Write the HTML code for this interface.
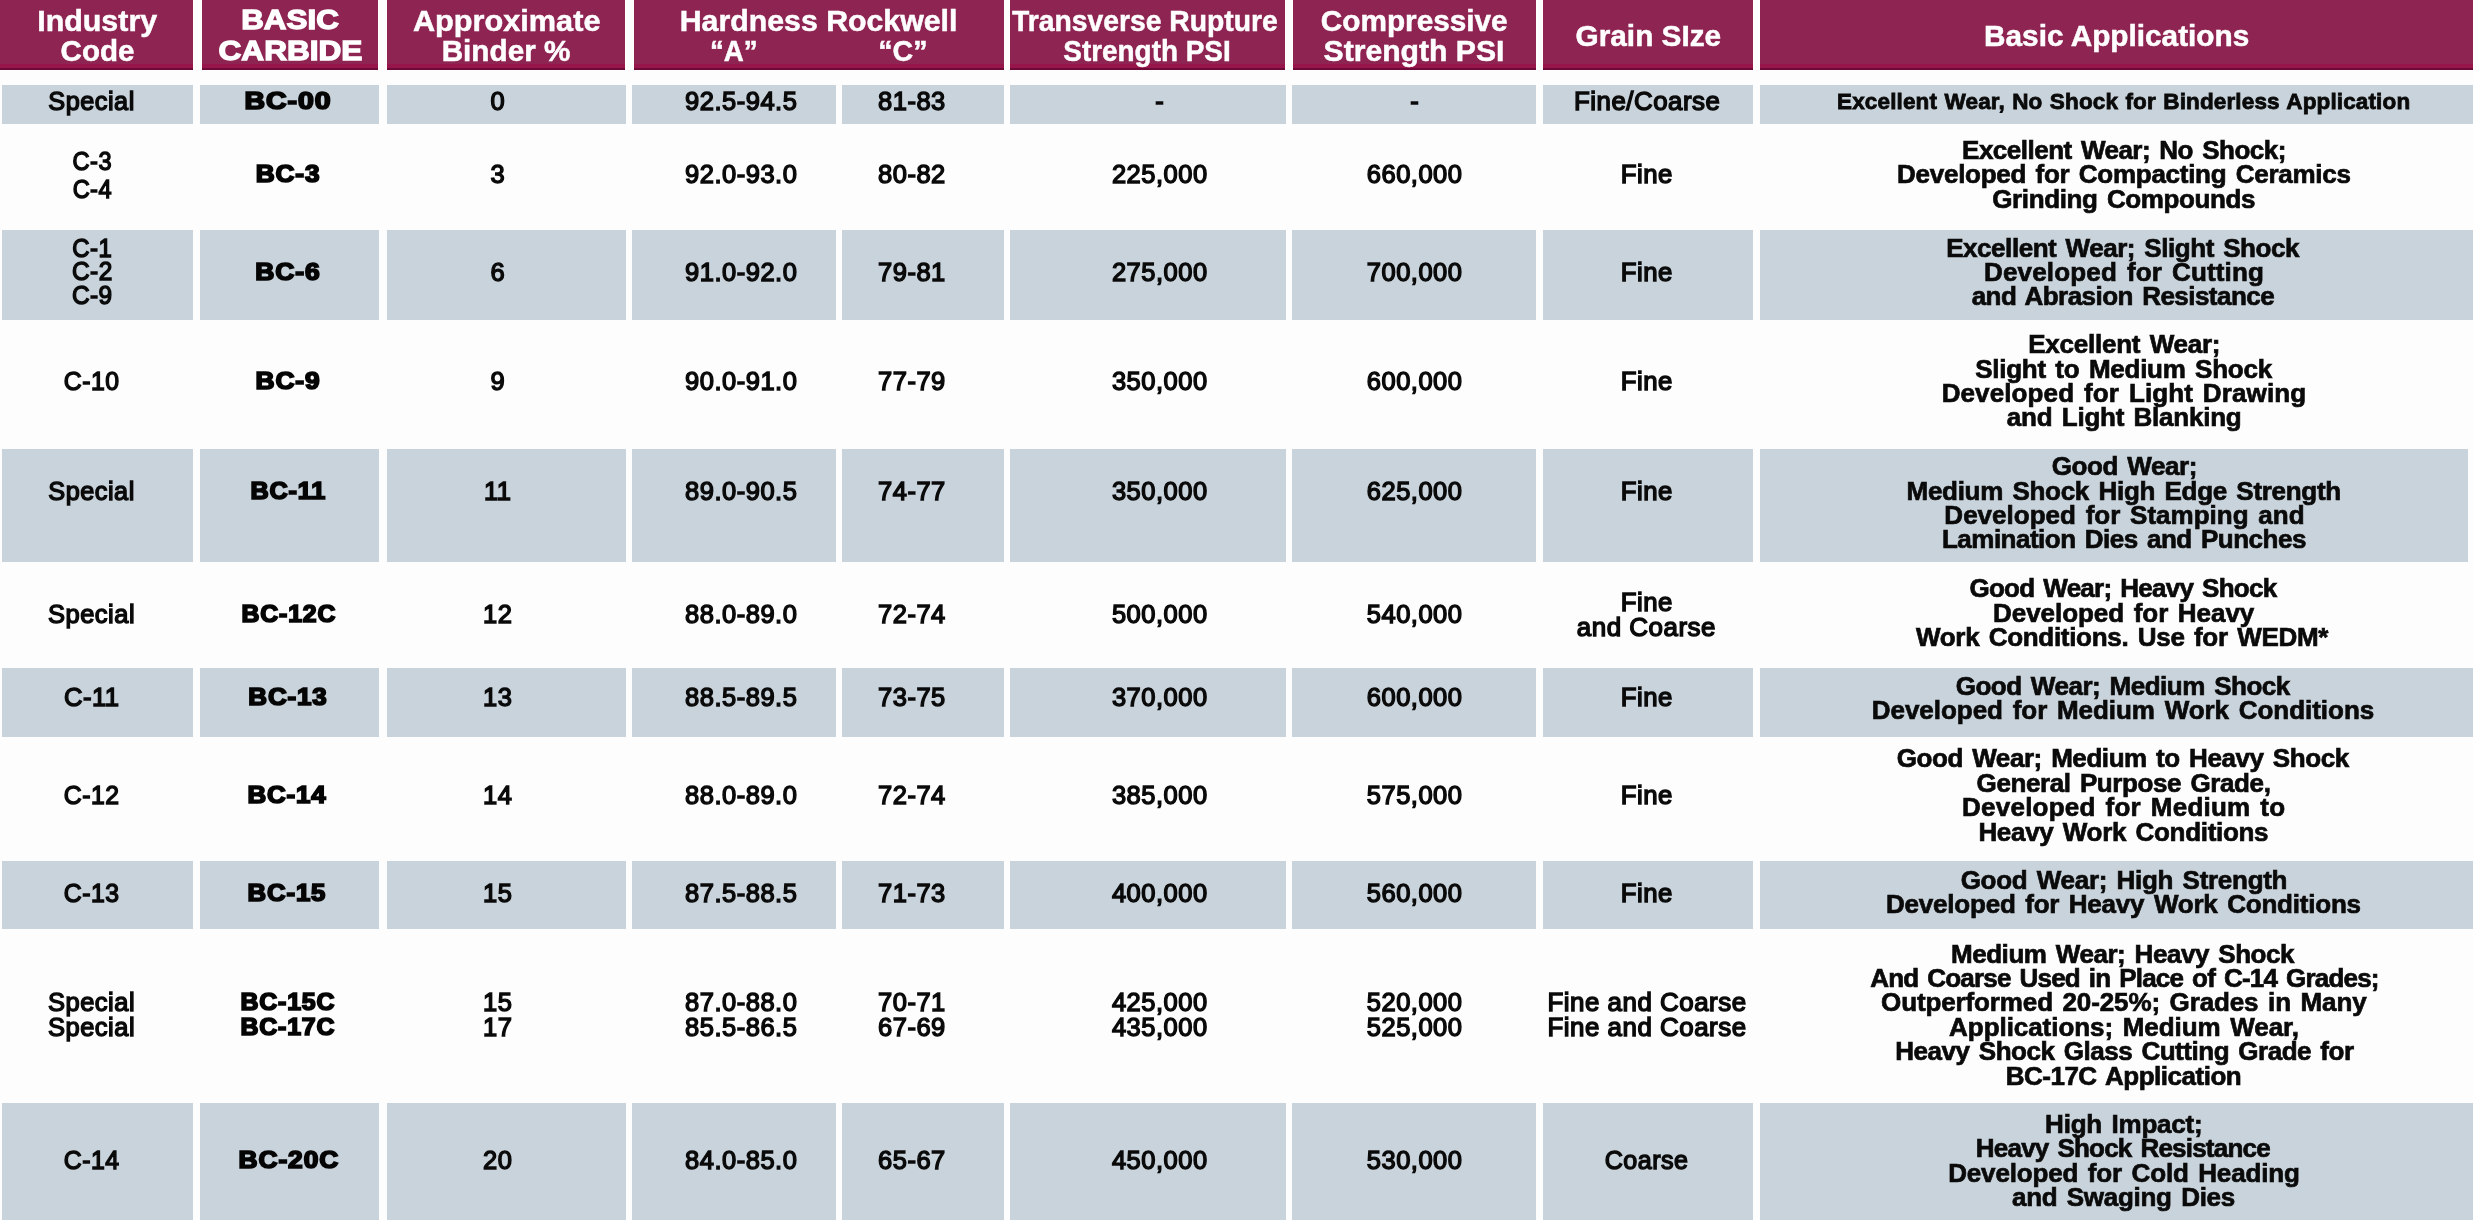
<!DOCTYPE html><html><head><meta charset="utf-8"><title>Carbide Grades</title><style>
html,body{margin:0;padding:0;overflow:hidden}
#w{position:absolute;left:0;top:0;width:2473px;height:1220px;overflow:hidden;}
body{width:2473px;height:1220px;background:#fdfdfd;position:relative;overflow:hidden;font-family:"Liberation Sans",sans-serif;}
.h{position:absolute;background:#8e2452;}
.hb{position:absolute;background:#96154a;}
.hl{position:absolute;background:#6f0a38;}
.c{position:absolute;background:#c9d3db;}
.t{position:absolute;width:1200px;margin-left:-600px;text-align:center;white-space:nowrap;line-height:30px;height:30px;filter:blur(0.45px);}
.n{font-size:25.5px;color:#0a0a0a;-webkit-text-stroke:1.4px #0a0a0a;letter-spacing:0.5px;}
.a{font-size:26px;font-weight:bold;color:#0a0a0a;word-spacing:2.5px;-webkit-text-stroke:0.7px #0a0a0a;}
.a1{font-size:22.5px;font-weight:bold;color:#0a0a0a;word-spacing:1px;-webkit-text-stroke:0.8px #0a0a0a;}
.b{font-size:23.5px;font-weight:bold;color:#050505;-webkit-text-stroke:1.7px #050505;letter-spacing:0.8px;}
.hd{font-size:30px;font-weight:bold;color:#fff;-webkit-text-stroke:0.5px #fff;}
.hbk{font-size:27px;font-weight:bold;color:#fff;-webkit-text-stroke:1.3px #fff;}
</style></head><body><div id="w">
<div class="h" style="left:0px;top:0;width:193px;height:70px"></div>
<div class="hb" style="left:0px;top:64px;width:193px;height:6px"></div>
<div class="hl" style="left:0px;top:67.5px;width:193px;height:2.5px"></div>
<div class="h" style="left:201.5px;top:0;width:176.5px;height:70px"></div>
<div class="hb" style="left:201.5px;top:64px;width:176.5px;height:6px"></div>
<div class="hl" style="left:201.5px;top:67.5px;width:176.5px;height:2.5px"></div>
<div class="h" style="left:386.5px;top:0;width:238.5px;height:70px"></div>
<div class="hb" style="left:386.5px;top:64px;width:238.5px;height:6px"></div>
<div class="hl" style="left:386.5px;top:67.5px;width:238.5px;height:2.5px"></div>
<div class="h" style="left:634px;top:0;width:369.5px;height:70px"></div>
<div class="hb" style="left:634px;top:64px;width:369.5px;height:6px"></div>
<div class="hl" style="left:634px;top:67.5px;width:369.5px;height:2.5px"></div>
<div class="h" style="left:1010px;top:0;width:275px;height:70px"></div>
<div class="hb" style="left:1010px;top:64px;width:275px;height:6px"></div>
<div class="hl" style="left:1010px;top:67.5px;width:275px;height:2.5px"></div>
<div class="h" style="left:1292.5px;top:0;width:243.5px;height:70px"></div>
<div class="hb" style="left:1292.5px;top:64px;width:243.5px;height:6px"></div>
<div class="hl" style="left:1292.5px;top:67.5px;width:243.5px;height:2.5px"></div>
<div class="h" style="left:1543px;top:0;width:209.5px;height:70px"></div>
<div class="hb" style="left:1543px;top:64px;width:209.5px;height:6px"></div>
<div class="hl" style="left:1543px;top:67.5px;width:209.5px;height:2.5px"></div>
<div class="h" style="left:1760px;top:0;width:713px;height:70px"></div>
<div class="hb" style="left:1760px;top:64px;width:713px;height:6px"></div>
<div class="hl" style="left:1760px;top:67.5px;width:713px;height:2.5px"></div>
<div class="c" style="left:2px;top:85px;width:191px;height:39px"></div>
<div class="c" style="left:200px;top:85px;width:179px;height:39px"></div>
<div class="c" style="left:386.5px;top:85px;width:239.5px;height:39px"></div>
<div class="c" style="left:632px;top:85px;width:204px;height:39px"></div>
<div class="c" style="left:842px;top:85px;width:162px;height:39px"></div>
<div class="c" style="left:1010px;top:85px;width:276px;height:39px"></div>
<div class="c" style="left:1292px;top:85px;width:244px;height:39px"></div>
<div class="c" style="left:1543px;top:85px;width:210px;height:39px"></div>
<div class="c" style="left:1759.5px;top:85px;width:713.5px;height:39px"></div>
<div class="c" style="left:2px;top:230px;width:191px;height:90px"></div>
<div class="c" style="left:200px;top:230px;width:179px;height:90px"></div>
<div class="c" style="left:386.5px;top:230px;width:239.5px;height:90px"></div>
<div class="c" style="left:632px;top:230px;width:204px;height:90px"></div>
<div class="c" style="left:842px;top:230px;width:162px;height:90px"></div>
<div class="c" style="left:1010px;top:230px;width:276px;height:90px"></div>
<div class="c" style="left:1292px;top:230px;width:244px;height:90px"></div>
<div class="c" style="left:1543px;top:230px;width:210px;height:90px"></div>
<div class="c" style="left:1759.5px;top:230px;width:713.5px;height:90px"></div>
<div class="c" style="left:2px;top:449px;width:191px;height:113px"></div>
<div class="c" style="left:200px;top:449px;width:179px;height:113px"></div>
<div class="c" style="left:386.5px;top:449px;width:239.5px;height:113px"></div>
<div class="c" style="left:632px;top:449px;width:204px;height:113px"></div>
<div class="c" style="left:842px;top:449px;width:162px;height:113px"></div>
<div class="c" style="left:1010px;top:449px;width:276px;height:113px"></div>
<div class="c" style="left:1292px;top:449px;width:244px;height:113px"></div>
<div class="c" style="left:1543px;top:449px;width:210px;height:113px"></div>
<div class="c" style="left:1759.5px;top:449px;width:708.5px;height:113px"></div>
<div class="c" style="left:2px;top:668px;width:191px;height:69px"></div>
<div class="c" style="left:200px;top:668px;width:179px;height:69px"></div>
<div class="c" style="left:386.5px;top:668px;width:239.5px;height:69px"></div>
<div class="c" style="left:632px;top:668px;width:204px;height:69px"></div>
<div class="c" style="left:842px;top:668px;width:162px;height:69px"></div>
<div class="c" style="left:1010px;top:668px;width:276px;height:69px"></div>
<div class="c" style="left:1292px;top:668px;width:244px;height:69px"></div>
<div class="c" style="left:1543px;top:668px;width:210px;height:69px"></div>
<div class="c" style="left:1759.5px;top:668px;width:713.5px;height:69px"></div>
<div class="c" style="left:2px;top:861px;width:191px;height:68px"></div>
<div class="c" style="left:200px;top:861px;width:179px;height:68px"></div>
<div class="c" style="left:386.5px;top:861px;width:239.5px;height:68px"></div>
<div class="c" style="left:632px;top:861px;width:204px;height:68px"></div>
<div class="c" style="left:842px;top:861px;width:162px;height:68px"></div>
<div class="c" style="left:1010px;top:861px;width:276px;height:68px"></div>
<div class="c" style="left:1292px;top:861px;width:244px;height:68px"></div>
<div class="c" style="left:1543px;top:861px;width:210px;height:68px"></div>
<div class="c" style="left:1759.5px;top:861px;width:713.5px;height:68px"></div>
<div class="c" style="left:2px;top:1103px;width:191px;height:117px"></div>
<div class="c" style="left:200px;top:1103px;width:179px;height:117px"></div>
<div class="c" style="left:386.5px;top:1103px;width:239.5px;height:117px"></div>
<div class="c" style="left:632px;top:1103px;width:204px;height:117px"></div>
<div class="c" style="left:842px;top:1103px;width:162px;height:117px"></div>
<div class="c" style="left:1010px;top:1103px;width:276px;height:117px"></div>
<div class="c" style="left:1292px;top:1103px;width:244px;height:117px"></div>
<div class="c" style="left:1543px;top:1103px;width:210px;height:117px"></div>
<div class="c" style="left:1759.5px;top:1103px;width:713.5px;height:117px"></div>
<div class="t hd" style="left:97.65px;top:5.50px"><span style="display:inline-block;transform:scaleX(1.0135)">Industry</span></div>
<div class="t hd" style="left:97.15px;top:36.11px"><span style="display:inline-block;transform:scaleX(0.9852)">Code</span></div>
<div class="t hbk" style="left:290.41px;top:5.14px"><span style="display:inline-block;transform:scaleX(1.1614)">BASIC</span></div>
<div class="t hbk" style="left:290.44px;top:36.34px"><span style="display:inline-block;transform:scaleX(1.1697)">CARBIDE</span></div>
<div class="t hd" style="left:506.33px;top:5.71px"><span style="display:inline-block;transform:scaleX(1.0229)">Approximate</span></div>
<div class="t hd" style="left:506.11px;top:36.11px"><span style="display:inline-block;transform:scaleX(0.9897)">Binder %</span></div>
<div class="t hd" style="left:818.39px;top:5.50px"><span style="display:inline-block;transform:scaleX(1.0094)">Hardness Rockwell</span></div>
<div class="t hd" style="left:733.61px;top:36.11px"><span style="display:inline-block;transform:scaleX(0.9226)">“A”</span></div>
<div class="t hd" style="left:903.31px;top:36.31px"><span style="display:inline-block;transform:scaleX(0.9531)">“C”</span></div>
<div class="t hd" style="left:1144.56px;top:5.50px"><span style="display:inline-block;transform:scaleX(0.9430)">Transverse Rupture</span></div>
<div class="t hd" style="left:1147.24px;top:35.91px"><span style="display:inline-block;transform:scaleX(0.9299)">Strength PSI</span></div>
<div class="t hd" style="left:1413.74px;top:5.71px"><span style="display:inline-block;transform:scaleX(0.9917)">Compressive</span></div>
<div class="t hd" style="left:1414.26px;top:36.31px"><span style="display:inline-block;transform:scaleX(1.0051)">Strength PSI</span></div>
<div class="t hd" style="left:1648.56px;top:20.90px"><span style="display:inline-block;transform:scaleX(0.9925)">Grain SIze</span></div>
<div class="t hd" style="left:2116.26px;top:20.50px"><span style="display:inline-block;transform:scaleX(0.9924)">Basic Applications</span></div>
<div class="t n" style="left:91.30px;top:85.56px"><span style="display:inline-block;transform:scaleX(0.9925)">Special</span></div>
<div class="t b" style="left:288.37px;top:85.66px"><span style="display:inline-block;transform:scaleX(1.2112)">BC-00</span></div>
<div class="t n" style="left:497.75px;top:85.56px">0</div>
<div class="t n" style="left:741.25px;top:85.56px">92.5-94.5</div>
<div class="t n" style="left:911.95px;top:85.56px">81-83</div>
<div class="t n" style="left:1159.75px;top:85.56px">-</div>
<div class="t n" style="left:1414.65px;top:85.56px">-</div>
<div class="t n" style="left:1647.08px;top:85.56px"><span style="display:inline-block;transform:scaleX(1.0130)">Fine/Coarse</span></div>
<div class="t a1" style="left:2123.68px;top:87.00px;letter-spacing:0.138px">Excellent Wear, No Shock for Binderless Application</div>
<div class="t n" style="left:92.08px;top:146.36px"><span style="display:inline-block;transform:scaleX(0.9243)">C-3</span></div>
<div class="t n" style="left:92.20px;top:174.16px"><span style="display:inline-block;transform:scaleX(0.9226)">C-4</span></div>
<div class="t b" style="left:288.33px;top:159.06px"><span style="display:inline-block;transform:scaleX(1.1141)">BC-3</span></div>
<div class="t n" style="left:497.75px;top:158.96px">3</div>
<div class="t n" style="left:741.25px;top:158.96px">92.0-93.0</div>
<div class="t n" style="left:911.95px;top:158.96px">80-82</div>
<div class="t n" style="left:1159.75px;top:158.96px">225,000</div>
<div class="t n" style="left:1414.65px;top:158.96px">660,000</div>
<div class="t n" style="left:1646.44px;top:158.96px"><span style="display:inline-block;transform:scaleX(1.0114)">Fine</span></div>
<div class="t a" style="left:2123.94px;top:134.69px;letter-spacing:-0.508px">Excellent Wear; No Shock;</div>
<div class="t a" style="left:2123.88px;top:159.09px;letter-spacing:-0.275px">Developed for Compacting Ceramics</div>
<div class="t a" style="left:2123.74px;top:183.69px;letter-spacing:-0.374px">Grinding Compounds</div>
<div class="t n" style="left:91.98px;top:232.56px"><span style="display:inline-block;transform:scaleX(0.9375)">C-1</span></div>
<div class="t n" style="left:91.94px;top:256.36px"><span style="display:inline-block;transform:scaleX(0.9574)">C-2</span></div>
<div class="t n" style="left:91.94px;top:280.16px"><span style="display:inline-block;transform:scaleX(0.9563)">C-9</span></div>
<div class="t b" style="left:288.51px;top:257.26px"><span style="display:inline-block;transform:scaleX(1.1250)">BC-6</span></div>
<div class="t n" style="left:497.75px;top:257.16px">6</div>
<div class="t n" style="left:741.25px;top:257.16px">91.0-92.0</div>
<div class="t n" style="left:911.95px;top:257.16px">79-81</div>
<div class="t n" style="left:1159.75px;top:257.16px">275,000</div>
<div class="t n" style="left:1414.65px;top:257.16px">700,000</div>
<div class="t n" style="left:1646.44px;top:257.16px"><span style="display:inline-block;transform:scaleX(1.0110)">Fine</span></div>
<div class="t a" style="left:2122.56px;top:232.59px;letter-spacing:-0.451px">Excellent Wear; Slight Shock</div>
<div class="t a" style="left:2124.04px;top:256.99px;letter-spacing:0.170px">Developed for Cutting</div>
<div class="t a" style="left:2122.90px;top:281.39px;letter-spacing:-0.530px">and Abrasion Resistance</div>
<div class="t n" style="left:91.78px;top:365.96px"><span style="display:inline-block;transform:scaleX(0.9707)">C-10</span></div>
<div class="t b" style="left:288.41px;top:366.06px"><span style="display:inline-block;transform:scaleX(1.1214)">BC-9</span></div>
<div class="t n" style="left:497.75px;top:365.96px">9</div>
<div class="t n" style="left:741.25px;top:365.96px">90.0-91.0</div>
<div class="t n" style="left:911.95px;top:365.96px">77-79</div>
<div class="t n" style="left:1159.75px;top:365.96px">350,000</div>
<div class="t n" style="left:1414.65px;top:365.96px">600,000</div>
<div class="t n" style="left:1646.44px;top:365.96px"><span style="display:inline-block;transform:scaleX(1.0114)">Fine</span></div>
<div class="t a" style="left:2124.24px;top:329.29px;letter-spacing:-0.241px">Excellent Wear;</div>
<div class="t a" style="left:2123.54px;top:353.69px;letter-spacing:-0.250px">Slight to Medium Shock</div>
<div class="t a" style="left:2123.94px;top:378.09px;letter-spacing:0.119px">Developed for Light Drawing</div>
<div class="t a" style="left:2124.14px;top:402.49px;letter-spacing:-0.244px">and Light Blanking</div>
<div class="t n" style="left:91.30px;top:476.16px"><span style="display:inline-block;transform:scaleX(0.9925)">Special</span></div>
<div class="t b" style="left:288.44px;top:476.26px"><span style="display:inline-block;transform:scaleX(1.0718)">BC-11</span></div>
<div class="t n" style="left:497.75px;top:476.16px">11</div>
<div class="t n" style="left:741.25px;top:476.16px">89.0-90.5</div>
<div class="t n" style="left:911.95px;top:476.16px">74-77</div>
<div class="t n" style="left:1159.75px;top:476.16px">350,000</div>
<div class="t n" style="left:1414.65px;top:476.16px">625,000</div>
<div class="t n" style="left:1646.44px;top:476.16px"><span style="display:inline-block;transform:scaleX(1.0110)">Fine</span></div>
<div class="t a" style="left:2124.44px;top:451.29px;letter-spacing:-0.407px">Good Wear;</div>
<div class="t a" style="left:2123.74px;top:475.69px;letter-spacing:-0.291px">Medium Shock High Edge Strength</div>
<div class="t a" style="left:2124.48px;top:500.09px;letter-spacing:0.010px">Developed for Stamping and</div>
<div class="t a" style="left:2123.88px;top:524.49px;letter-spacing:-0.497px">Lamination Dies and Punches</div>
<div class="t n" style="left:91.60px;top:599.36px"><span style="display:inline-block;transform:scaleX(0.9996)">Special</span></div>
<div class="t b" style="left:288.56px;top:599.46px"><span style="display:inline-block;transform:scaleX(1.0544)">BC-12C</span></div>
<div class="t n" style="left:497.75px;top:599.36px">12</div>
<div class="t n" style="left:741.25px;top:599.36px">88.0-89.0</div>
<div class="t n" style="left:911.95px;top:599.36px">72-74</div>
<div class="t n" style="left:1159.75px;top:599.36px">500,000</div>
<div class="t n" style="left:1414.65px;top:599.36px">540,000</div>
<div class="t n" style="left:1646.44px;top:586.96px"><span style="display:inline-block;transform:scaleX(1.0114)">Fine</span></div>
<div class="t n" style="left:1646.48px;top:612.36px"><span style="display:inline-block;transform:scaleX(1.0169)">and Coarse</span></div>
<div class="t a" style="left:2122.94px;top:573.39px;letter-spacing:-0.755px">Good Wear; Heavy Shock</div>
<div class="t a" style="left:2123.64px;top:597.79px;letter-spacing:-0.057px">Developed for Heavy</div>
<div class="t a" style="left:2122.04px;top:622.19px;letter-spacing:-0.303px">Work Conditions. Use for WEDM*</div>
<div class="t n" style="left:91.44px;top:682.36px"><span style="display:inline-block;transform:scaleX(1.0040)">C-11</span></div>
<div class="t b" style="left:288.13px;top:682.46px"><span style="display:inline-block;transform:scaleX(1.1035)">BC-13</span></div>
<div class="t n" style="left:497.75px;top:682.36px">13</div>
<div class="t n" style="left:741.25px;top:682.36px">88.5-89.5</div>
<div class="t n" style="left:911.95px;top:682.36px">73-75</div>
<div class="t n" style="left:1159.75px;top:682.36px">370,000</div>
<div class="t n" style="left:1414.65px;top:682.36px">600,000</div>
<div class="t n" style="left:1646.44px;top:682.36px"><span style="display:inline-block;transform:scaleX(1.0110)">Fine</span></div>
<div class="t a" style="left:2122.74px;top:670.79px;letter-spacing:-0.475px">Good Wear; Medium Shock</div>
<div class="t a" style="left:2122.98px;top:695.19px;letter-spacing:-0.031px">Developed for Medium Work Conditions</div>
<div class="t n" style="left:91.78px;top:780.06px"><span style="display:inline-block;transform:scaleX(0.9705)">C-12</span></div>
<div class="t b" style="left:287.41px;top:780.16px"><span style="display:inline-block;transform:scaleX(1.1002)">BC-14</span></div>
<div class="t n" style="left:497.75px;top:780.06px">14</div>
<div class="t n" style="left:741.25px;top:780.06px">88.0-89.0</div>
<div class="t n" style="left:911.95px;top:780.06px">72-74</div>
<div class="t n" style="left:1159.75px;top:780.06px">385,000</div>
<div class="t n" style="left:1414.65px;top:780.06px">575,000</div>
<div class="t n" style="left:1646.44px;top:780.06px"><span style="display:inline-block;transform:scaleX(1.0114)">Fine</span></div>
<div class="t a" style="left:2122.74px;top:743.39px;letter-spacing:-0.428px">Good Wear; Medium to Heavy Shock</div>
<div class="t a" style="left:2123.54px;top:767.79px;letter-spacing:-0.398px">General Purpose Grade,</div>
<div class="t a" style="left:2123.72px;top:792.19px;letter-spacing:0.226px">Developed for Medium to</div>
<div class="t a" style="left:2123.30px;top:816.59px;letter-spacing:-0.310px">Heavy Work Conditions</div>
<div class="t n" style="left:91.40px;top:877.76px"><span style="display:inline-block;transform:scaleX(0.9714)">C-13</span></div>
<div class="t b" style="left:287.24px;top:877.86px"><span style="display:inline-block;transform:scaleX(1.0941)">BC-15</span></div>
<div class="t n" style="left:497.75px;top:877.76px">15</div>
<div class="t n" style="left:741.25px;top:877.76px">87.5-88.5</div>
<div class="t n" style="left:911.95px;top:877.76px">71-73</div>
<div class="t n" style="left:1159.75px;top:877.76px">400,000</div>
<div class="t n" style="left:1414.65px;top:877.76px">560,000</div>
<div class="t n" style="left:1646.44px;top:877.76px"><span style="display:inline-block;transform:scaleX(1.0110)">Fine</span></div>
<div class="t a" style="left:2123.94px;top:864.79px;letter-spacing:-0.290px">Good Wear; High Strength</div>
<div class="t a" style="left:2123.44px;top:889.19px;letter-spacing:-0.202px">Developed for Heavy Work Conditions</div>
<div class="t n" style="left:91.60px;top:987.36px"><span style="display:inline-block;transform:scaleX(0.9996)">Special</span></div>
<div class="t n" style="left:91.60px;top:1011.56px"><span style="display:inline-block;transform:scaleX(0.9996)">Special</span></div>
<div class="t b" style="left:288.33px;top:987.46px"><span style="display:inline-block;transform:scaleX(1.0573)">BC-15C</span></div>
<div class="t b" style="left:288.33px;top:1011.66px"><span style="display:inline-block;transform:scaleX(1.0573)">BC-17C</span></div>
<div class="t n" style="left:497.75px;top:987.36px">15</div>
<div class="t n" style="left:497.75px;top:1011.56px">17</div>
<div class="t n" style="left:741.25px;top:987.36px">87.0-88.0</div>
<div class="t n" style="left:741.25px;top:1011.56px">85.5-86.5</div>
<div class="t n" style="left:911.95px;top:987.36px">70-71</div>
<div class="t n" style="left:911.95px;top:1011.56px">67-69</div>
<div class="t n" style="left:1159.75px;top:987.36px">425,000</div>
<div class="t n" style="left:1159.75px;top:1011.56px">435,000</div>
<div class="t n" style="left:1414.65px;top:987.36px">520,000</div>
<div class="t n" style="left:1414.65px;top:1011.56px">525,000</div>
<div class="t n" style="left:1646.82px;top:987.36px"><span style="display:inline-block;transform:scaleX(1.0161)">Fine and Coarse</span></div>
<div class="t n" style="left:1646.82px;top:1011.56px"><span style="display:inline-block;transform:scaleX(1.0161)">Fine and Coarse</span></div>
<div class="t a" style="left:2122.50px;top:938.59px;letter-spacing:-0.447px">Medium Wear; Heavy Shock</div>
<div class="t a" style="left:2124.44px;top:962.99px;letter-spacing:-0.802px">And Coarse Used in Place of C-14 Grades;</div>
<div class="t a" style="left:2123.78px;top:987.39px;letter-spacing:-0.121px">Outperformed 20-25%; Grades in Many</div>
<div class="t a" style="left:2124.00px;top:1011.79px;letter-spacing:-0.054px">Applications; Medium Wear,</div>
<div class="t a" style="left:2124.44px;top:1036.19px;letter-spacing:-0.472px">Heavy Shock Glass Cutting Grade for</div>
<div class="t a" style="left:2123.44px;top:1060.59px;letter-spacing:-0.479px">BC-17C Application</div>
<div class="t n" style="left:91.78px;top:1145.26px"><span style="display:inline-block;transform:scaleX(0.9730)">C-14</span></div>
<div class="t b" style="left:288.51px;top:1145.36px"><span style="display:inline-block;transform:scaleX(1.1206)">BC-20C</span></div>
<div class="t n" style="left:497.75px;top:1145.26px">20</div>
<div class="t n" style="left:741.25px;top:1145.26px">84.0-85.0</div>
<div class="t n" style="left:911.95px;top:1145.26px">65-67</div>
<div class="t n" style="left:1159.75px;top:1145.26px">450,000</div>
<div class="t n" style="left:1414.65px;top:1145.26px">530,000</div>
<div class="t n" style="left:1646.90px;top:1145.26px"><span style="display:inline-block;transform:scaleX(0.9832)">Coarse</span></div>
<div class="t a" style="left:2123.80px;top:1108.99px;letter-spacing:-0.215px">High Impact;</div>
<div class="t a" style="left:2122.84px;top:1133.39px;letter-spacing:-0.790px">Heavy Shock Resistance</div>
<div class="t a" style="left:2123.94px;top:1157.79px;letter-spacing:-0.159px">Developed for Cold Heading</div>
<div class="t a" style="left:2123.48px;top:1182.19px;letter-spacing:-0.287px">and Swaging Dies</div>
</div></body></html>
